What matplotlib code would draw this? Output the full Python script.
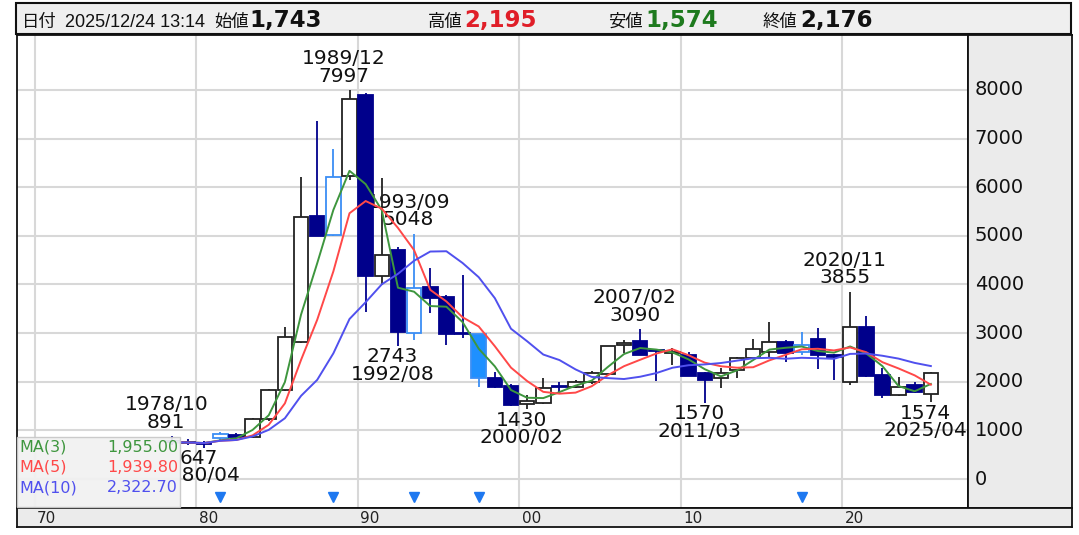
import matplotlib
matplotlib.use("Agg")
import matplotlib.pyplot as plt
from matplotlib.patches import Rectangle
from matplotlib.transforms import Bbox
import numpy as np
import pandas as pd

# yearly candles
years = list(range(1978, 2026))
opens = [780, 770, 740, 843, 905, 864, 1234, 1830, 2823, 5407, 5017, 6230, 7895, 4174, 4708, 3002,
         3947, 3742, 3000, 2981, 2077, 1912, 1545, 1560, 1905, 1898, 1995, 2159, 2760, 2844, 2660,
         2600, 2550, 2180, 2077, 2241, 2488, 2617, 2823, 2611, 2878, 2560, 2000, 3132, 2138, 1727,
         1930, 1743]
highs = [891, 830, 790, 960, 950, 1260, 1860, 3125, 6216, 7367, 6785, 7997, 7930, 6188, 4770, 5048,
         4338, 3780, 4194, 2990, 2200, 1950, 1720, 2077, 2000, 2030, 2230, 2740, 2858, 3090, 2680,
         2693, 2617, 2200, 2282, 2500, 2878, 3234, 2850, 3029, 3104, 2580, 3855, 3351, 2282, 2103,
         2000, 2195]
lows = [700, 700, 647, 800, 850, 840, 1200, 1800, 2800, 4996, 5000, 6147, 3440, 3989, 2743, 2858,
        3413, 2755, 2899, 1892, 1870, 1500, 1430, 1540, 1795, 1880, 1960, 2140, 2590, 2540, 2021,
        2344, 2110, 1570, 1871, 2077, 2470, 2515, 2412, 2560, 2261, 2035, 1933, 2100, 1665, 1700,
        1760, 1574]
closes = [760, 740, 720, 925, 870, 1234, 1830, 2920, 5393, 4996, 6209, 7807, 4174, 4605, 3022, 3927,
          3721, 2981, 2981, 2077, 1892, 1521, 1600, 1871, 1890, 2000, 2180, 2734, 2796, 2550, 2640,
          2620, 2118, 2035, 2180, 2488, 2673, 2823, 2600, 2750, 2545, 2501, 3132, 2110, 1724, 1900,
          1789, 2176]
event_years = [1981, 1988, 1993, 1997, 2017]

high_years = [1978, 1989, 1993, 2007, 2020]
high_dates = ["1978/10", "1989/12", "1993/09", "2007/02", "2020/11"]
low_years = [1980, 1992, 2000, 2011, 2025]
low_dates = ["1980/04", "1992/08", "2000/02", "2011/03", "2025/04"]

ma_periods = [3, 5, 10]
ma_colors = ["#3E963E", "#FF4848", "#5050EE"]

header_date = "2025/12/24 13:14"
hdr_open, hdr_high, hdr_low, hdr_close = "1,743", "2,195", "1,574", "2,176"

W, H = 1079, 535
fig = plt.figure(figsize=(W / 100, H / 100), dpi=100)
fig.patch.set_facecolor("white")


def fbox(x0, y0, x1, y1):
    return [x0 / W, 1 - y1 / H, (x1 - x0) / W, (y1 - y0) / H]


XL = (1968.91, 2027.80)
YL = (-596, 9130)

ax = fig.add_axes(fbox(17, 35, 968, 508))
ax.set_xlim(*XL)
ax.set_ylim(*YL)
ax.set_xticks(range(1970, 2030, 10))
ax.set_yticks(range(0, 9000, 1000))
ax.tick_params(length=0, labelbottom=False, labelleft=False)
ax.grid(color="#D8D8D8", lw=1.5, zorder=0)
ax.set_axisbelow(True)
for s in ax.spines.values():
    s.set_color("#111111")
    s.set_linewidth(1.3)

df = pd.DataFrame({"year": years, "open": opens, "high": highs, "low": lows, "close": closes})
df["x"] = df["year"] + 0.5
up = df["close"] >= df["open"]
ev = df["year"].isin(event_years)
edge = np.where(ev, "#3A8EF5", np.where(up, "#222222", "#00008B"))
face = np.where(up, "white", np.where(ev, "#1E90FF", "#00008B"))

ax.vlines(df["x"], df["low"], df["high"], colors=edge, lw=1.3, zorder=3)
body_h = (df["close"] - df["open"]).abs().clip(lower=8)
ax.bar(df["x"], body_h, bottom=df[["open", "close"]].min(axis=1), width=0.9,
       color=face, edgecolor=edge, linewidth=1.3, zorder=4)

for p, c in zip(ma_periods, ma_colors):
    ma = df["close"].rolling(p, min_periods=1).mean()
    ax.plot(df["x"], ma, color=c, lw=1.4, zorder=5, solid_joinstyle="round")

ax.plot([y + 0.5 for y in event_years], [-370] * len(event_years), "v",
        color="#1E78F0", ms=7, zorder=6, clip_on=False)

# visible part of the plot (right of the MA box)
vis = Bbox.from_extents(180, 0, 968, H - 35)

lbl = dict(fontsize=14.5, color="#111111", ha="center", linespacing=0.9, zorder=2,
           family="DejaVu Sans")
for yr, d in zip(high_years, high_dates):
    v = df.loc[df["year"] == yr, "high"].iloc[0]
    ax.annotate(f"{d}\n{v}", (yr + 0.5, v), xytext=(-4, 3), textcoords="offset points",
                va="bottom", annotation_clip=False, **lbl)
for yr, d in zip(low_years, low_dates):
    v = df.loc[df["year"] == yr, "low"].iloc[0]
    t = ax.annotate(f"{v}\n{d}", (yr + 0.5, v), xytext=(-4, -1), textcoords="offset points",
                    va="top", annotation_clip=False, **lbl)
    t.set_clip_on(True)
    t.set_clip_box(vis)

# right value panel
axr = fig.add_axes(fbox(968, 35, 1072, 508))
axr.set_facecolor("#EBEBEB")
axr.set_ylim(*YL)
axr.set_xlim(0, 1)
axr.set_xticks([])
axr.set_yticks([])
for s in axr.spines.values():
    s.set_color("#111111")
    s.set_linewidth(1.3)
for v in range(0, 9000, 1000):
    axr.text(0.065, v, str(v), fontsize=14, va="center", ha="left", color="#111111")

# bottom year bar
axb = fig.add_axes(fbox(17, 508, 1072, 527))
axb.set_facecolor("#EBEBEB")
axb.set_xlim(XL[0], XL[0] + (1072 - 17) / 16.15)
axb.set_ylim(0, 1)
axb.set_xticks([])
axb.set_yticks([])
for s in axb.spines.values():
    s.set_color("#111111")
    s.set_linewidth(1.3)
for d in range(1970, 2030, 10):
    axb.text(d + 0.15, 0.45, f"{d % 100:02d}", fontsize=11, va="center", ha="left", color="#222222")

# MA legend box
fig.add_artist(Rectangle((17 / W, 1 - 507 / H), 163 / W, 70 / H, transform=fig.transFigure,
                         facecolor="#F1F1F1", edgecolor="#C8C8C8", lw=1, alpha=0.93, zorder=5))
last_ma = [df["close"].tail(p).mean() for p in ma_periods]
for i, (p, c, v) in enumerate(zip(ma_periods, ma_colors, last_ma)):
    yy = 1 - (447 + 20.5 * i) / H
    fig.text(19 / W, yy, f"MA({p})", color=c, fontsize=11.5, va="center", ha="left", zorder=6)
    fig.text(178 / W, yy, f"{v:,.2f}", color=c, fontsize=11.5, va="center", ha="right", zorder=6)

# header
fig.add_artist(Rectangle((16 / W, 1 - 34 / H), 1055 / W, 31 / H, transform=fig.transFigure,
                         facecolor="#EFEFEF", edgecolor="#111111", lw=1.5, zorder=5))
cjk = ["Noto Sans CJK JP", "DejaVu Sans"]
hy = 1 - 27 / H
hdr = [
    (22, "日付", cjk, 12.5, "normal", "#111111"),
    (65, header_date, ["Liberation Sans"], 13, "normal", "#111111"),
    (214, "始値", cjk, 12.5, "normal", "#111111"),
    (249, hdr_open, ["DejaVu Sans"], 16.5, "bold", "#111111"),
    (428, "高値", cjk, 12.5, "normal", "#111111"),
    (464, hdr_high, ["DejaVu Sans"], 16.5, "bold", "#E01E28"),
    (608, "安値", cjk, 12.5, "normal", "#111111"),
    (645, hdr_low, ["DejaVu Sans"], 16.5, "bold", "#1E7A1E"),
    (763, "終値", cjk, 12.5, "normal", "#111111"),
    (800, hdr_close, ["DejaVu Sans"], 16.5, "bold", "#111111"),
]
for x, s, fam, fs, fw, col in hdr:
    fig.text(x / W, hy, s, family=fam, fontsize=fs, fontweight=fw, color=col,
             va="baseline", ha="left", zorder=6)

fig.savefig("out.png", dpi=100)
